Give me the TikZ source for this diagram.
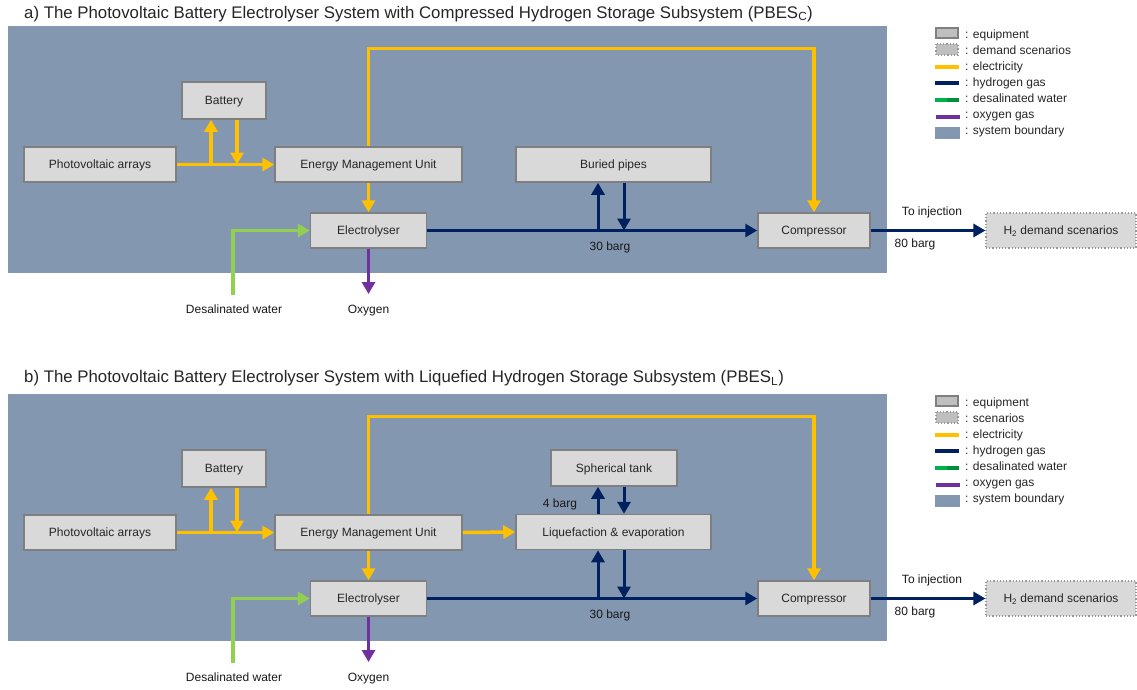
\documentclass[tikz,border=0pt]{standalone}
\usepackage{fontspec}
\setmainfont{Liberation Sans}
\usetikzlibrary{arrows.meta}
\pgfdeclarelayer{panellayer}
\pgfdeclarelayer{linelayer}
\pgfsetlayers{panellayer,linelayer,main}
\definecolor{panel}{HTML}{8497B0}
\definecolor{boxfill}{HTML}{D9D9D9}
\definecolor{boxline}{HTML}{7F7F7F}
\definecolor{elecc}{HTML}{FFC000}
\definecolor{hydc}{HTML}{002060}
\definecolor{waterc}{HTML}{92D050}
\definecolor{oxyc}{HTML}{7030A0}
\definecolor{legwater}{HTML}{00B050}
\definecolor{legwater2}{HTML}{00913A}
\definecolor{legbox}{HTML}{BFBFBF}
\begin{document}
\begin{tikzpicture}[x=1pt,y=-1pt,
  >={Triangle[length=12pt,width=13pt]},
  equip/.style={draw=boxline,line width=1.5pt,fill=boxfill,inner sep=0pt,
    text height=8.6pt,text depth=0pt,
    font=\fontsize{12}{14}\selectfont,text=black!85},
  demandbox/.style={draw=boxline!80,line width=1.2pt,dotted,fill=boxfill,inner sep=0pt,
    text height=8.6pt,text depth=0pt,
    font=\fontsize{12}{14}\selectfont,text=black!85},
  lbl/.style={inner sep=0pt,text height=8.6pt,text depth=0pt,
    font=\fontsize{12}{14}\selectfont,text=black!90},
  ttl/.style={inner sep=0pt,anchor=base west,font=\fontsize{16.8}{20}\selectfont,text=black!85},
  legtext/.style={inner sep=0pt,anchor=base west,font=\fontsize{12}{14}\selectfont,text=black!85},
  elec/.style={draw=elecc,line width=3.5pt},
  h2/.style={draw=hydc,line width=3pt},
  water/.style={draw=waterc,line width=3.5pt},
  oxy/.style={draw=oxyc,line width=3pt}]
\useasboundingbox (0,0) rectangle (1137,689);
\begin{pgfonlayer}{panellayer}
\fill[white] (0,0) rectangle (1137,689);
\fill[panel] (8,26) rectangle (887,273);
\fill[panel] (8,394) rectangle (887,641);
\end{pgfonlayer}

% ---------- panel a ----------
\node[ttl] (titlea) at (24,18) {a) The Photovoltaic Battery Electrolyser System with Compressed Hydrogen Storage Subsystem (PBES\textsubscript{C})};

\node[equip,minimum width=152pt,minimum height=35pt] (pva) at (100,164.5) {Photovoltaic arrays};
\node[equip,minimum width=84pt,minimum height=37pt] (bata) at (224,100.5) {Battery};
\node[equip,minimum width=187pt,minimum height=35pt] (emua) at (368.5,164.5) {Energy Management Unit};
\node[equip,minimum width=195pt,minimum height=35pt] (pipesa) at (613.5,164.5) {Buried pipes};
\node[equip,minimum width=116pt,minimum height=35pt] (elya) at (368.5,230.5) {Electrolyser};
\node[equip,minimum width=112pt,minimum height=35pt] (compa) at (814,230.5) {Compressor};
\node[demandbox,minimum width=150pt,minimum height=35pt] (dema) at (1061,230.5) {H\textsubscript{2} demand scenarios};

\coordinate (ja1) at (211,164.5);
\coordinate (ja2) at (237,164.5);
\coordinate (topa) at (368.5,48.5);
\coordinate (pa1) at (598,230.5);
\coordinate (pa2) at (624,230.5);
\coordinate (wa) at (233,295);
\coordinate (oa) at (368.5,294);

\begin{pgfonlayer}{linelayer}
\draw[elec,->] (emua.center) -- (topa) -| (compa.north);
\end{pgfonlayer}
\draw[elec,->] (pva.east) -- (emua.west);
\draw[elec,->] (ja1) -- (ja1 |- bata.south);
\draw[elec,->] (ja2 |- bata.south) -- (ja2);
\draw[elec,->] (emua.south) -- (elya.north);
\draw[h2,->] (elya.east) -- (compa.west);
\draw[h2,->] (pa1) -- (pa1 |- pipesa.south);
\draw[h2,->] (pa2 |- pipesa.south) -- (pa2);
\draw[h2,->] (compa.east) -- (dema.west);
\draw[water,->] (wa) |- (elya.west);
\draw[oxy,->] (elya.south) -- (oa);

\node[lbl] (bara) at (610,246) {30 barg};
\node[lbl] (inja) at (932,211.5) {To injection};
\node[lbl] (b80a) at (915,243.5) {80 barg};
\node[lbl] (dwa) at (234,309.5) {Desalinated water};
\node[lbl] (oxa) at (368.5,309.5) {Oxygen};

% ---------- panel b ----------
\node[ttl] (titleb) at (24,382.5) {b) The Photovoltaic Battery Electrolyser System with Liquefied Hydrogen Storage Subsystem (PBES\textsubscript{L})};

\node[equip,minimum width=152pt,minimum height=35pt] (pvb) at (100,532.5) {Photovoltaic arrays};
\node[equip,minimum width=84pt,minimum height=37pt] (batb) at (224,468.5) {Battery};
\node[equip,minimum width=187pt,minimum height=35pt] (emub) at (368.5,532.5) {Energy Management Unit};
\node[equip,minimum width=126pt,minimum height=36pt] (tankb) at (614,468) {Spherical tank};
\node[equip,minimum width=195pt,minimum height=35pt] (liqb) at (613.5,532) {Liquefaction \& evaporation};
\node[equip,minimum width=116pt,minimum height=35pt] (elyb) at (368.5,598.5) {Electrolyser};
\node[equip,minimum width=112pt,minimum height=35pt] (compb) at (814,598.5) {Compressor};
\node[demandbox,minimum width=150pt,minimum height=35pt] (demb) at (1061,598.5) {H\textsubscript{2} demand scenarios};

\coordinate (topb) at (368.5,416.5);
\coordinate (jb1) at (211,532.5);
\coordinate (jb2) at (237,532.5);
\coordinate (pb1) at (598,598.5);
\coordinate (pb2) at (624,598.5);
\coordinate (wb) at (233,663);
\coordinate (ob) at (368.5,662);

\begin{pgfonlayer}{linelayer}
\draw[elec,->] (emub.center) -- (topb) -| (compb.north);
\end{pgfonlayer}
\draw[elec,->] (pvb.east) -- (emub.west);
\draw[elec,->] (jb1) -- (jb1 |- batb.south);
\draw[elec,->] (jb2 |- batb.south) -- (jb2);
\draw[elec,->] (emub.south) -- (elyb.north);
\draw[elec,->] (emub.east) -- (liqb.west);
\draw[h2,->] (elyb.east) -- (compb.west);
\draw[h2,->] (pb1) -- (pb1 |- liqb.south);
\draw[h2,->] (pb2 |- liqb.south) -- (pb2);
\draw[h2,->] (pb1 |- liqb.north) -- (pb1 |- tankb.south);
\draw[h2,->] (pb2 |- tankb.south) -- (pb2 |- liqb.north);
\draw[h2,->] (compb.east) -- (demb.west);
\draw[water,->] (wb) |- (elyb.west);
\draw[oxy,->] (elyb.south) -- (ob);

\node[lbl] (barb) at (610,614) {30 barg};
\node[lbl] (bar4b) at (560,503.5) {4 barg};
\node[lbl] (injb) at (932,579.5) {To injection};
\node[lbl] (b80b) at (915,611.5) {80 barg};
\node[lbl] (dwb) at (234,677.5) {Desalinated water};
\node[lbl] (oxb) at (368.5,677.5) {Oxygen};

% ---------- legends ----------
\foreach \o/\s/\n in {0/demand scenarios/a,368/scenarios/b}{
  \fill[legbox,draw=boxline,line width=2pt] (936,{28+\o}) rectangle (958,{38+\o});
  \fill[legbox,draw=boxline!80,line width=1.2pt,dotted] (936,{44+\o}) rectangle (958,{55+\o});
  \draw[elecc,line width=4pt] (935,{66.5+\o}) -- (959,{66.5+\o});
  \draw[hydc,line width=4pt] (935,{82.5+\o}) -- (959,{82.5+\o});
  \draw[legwater,line width=4pt] (935,{99.5+\o}) -- (947,{99.5+\o});
  \draw[legwater2,line width=4pt] (947,{99.5+\o}) -- (959,{99.5+\o});
  \draw[oxyc,line width=4pt] (936,{116.5+\o}) -- (960,{116.5+\o});
  \fill[panel] (935,{127+\o}) rectangle (960,{139+\o});
  \node[legtext] (le1\n) at (965,{38+\o}) {: equipment};
  \node[legtext] (le2\n) at (965,{54+\o}) {: \s};
  \node[legtext] (le3\n) at (965,{70+\o}) {: electricity};
  \node[legtext] (le4\n) at (965,{86+\o}) {: hydrogen gas};
  \node[legtext] (le5\n) at (965,{102+\o}) {: desalinated water};
  \node[legtext] (le6\n) at (965,{118+\o}) {: oxygen gas};
  \node[legtext] (le7\n) at (965,{134+\o}) {: system boundary};
}
\end{tikzpicture}
\end{document}
